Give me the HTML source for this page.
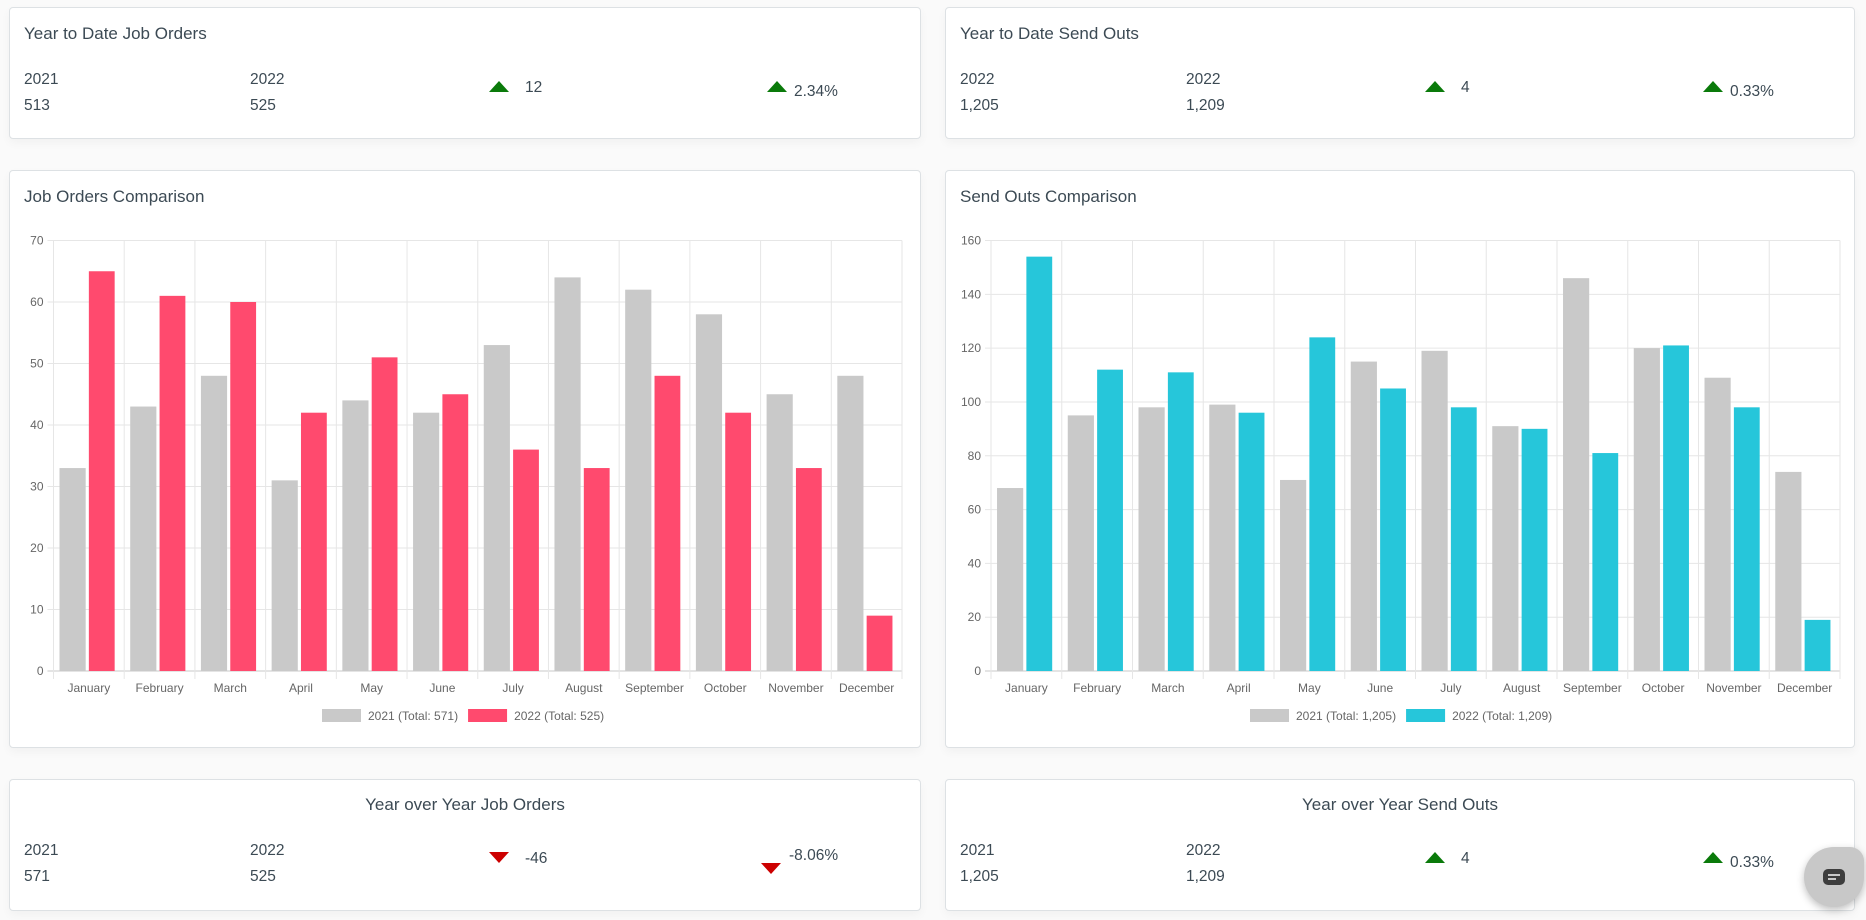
<!DOCTYPE html>
<html><head><meta charset="utf-8"><style>
body{margin:0;width:1866px;height:920px;background:#fafafa;font-family:"Liberation Sans",sans-serif;color:#3c4a54;position:relative;overflow:hidden}
.card{position:absolute;background:#fff;border:1px solid #dde1e4;border-radius:4px;box-shadow:0 4px 10px rgba(0,0,0,0.04)}
.t{position:absolute;font-size:17px;color:#3c4a54;white-space:nowrap}
.v{position:absolute;font-size:15.5px;color:#3c4a54;white-space:nowrap}
.up{position:absolute;width:0;height:0;border-left:10px solid transparent;border-right:10px solid transparent;border-bottom:11px solid #0a7a0a}
.dn{position:absolute;width:0;height:0;border-left:10px solid transparent;border-right:10px solid transparent;border-top:11px solid #cc0000}
svg text{font-family:"Liberation Sans",sans-serif}
</style></head><body>

<div class="card" style="left:9px;top:7px;width:910px;height:130px">
<div class="t" style="left:14px;top:16px">Year to Date Job Orders</div>
<div class="v" style="left:14px;top:63px">2021</div>
<div class="v" style="left:14px;top:89px">513</div>
<div class="v" style="left:240px;top:63px">2022</div>
<div class="v" style="left:240px;top:89px">525</div>
<div class="up" style="left:479px;top:73px"></div>
<div class="v" style="left:515px;top:71px">12</div>
<div class="up" style="left:757px;top:73px"></div>
<div class="v" style="left:784px;top:75px">2.34%</div>
</div>

<div class="card" style="left:945px;top:7px;width:908px;height:130px">
<div class="t" style="left:14px;top:16px">Year to Date Send Outs</div>
<div class="v" style="left:14px;top:63px">2022</div>
<div class="v" style="left:14px;top:89px">1,205</div>
<div class="v" style="left:240px;top:63px">2022</div>
<div class="v" style="left:240px;top:89px">1,209</div>
<div class="up" style="left:479px;top:73px"></div>
<div class="v" style="left:515px;top:71px">4</div>
<div class="up" style="left:757px;top:73px"></div>
<div class="v" style="left:784px;top:75px">0.33%</div>
</div>

<div class="card" style="left:9px;top:170px;width:910px;height:576px">
<div class="t" style="left:14px;top:16px">Job Orders Comparison</div>
</div>
<div class="card" style="left:945px;top:170px;width:908px;height:576px">
<div class="t" style="left:14px;top:16px">Send Outs Comparison</div>
</div>

<div class="card" style="left:9px;top:779px;width:910px;height:130px">
<div class="t" style="left:0;width:910px;text-align:center;top:15px">Year over Year Job Orders</div>
<div class="v" style="left:14px;top:62px">2021</div>
<div class="v" style="left:14px;top:88px">571</div>
<div class="v" style="left:240px;top:62px">2022</div>
<div class="v" style="left:240px;top:88px">525</div>
<div class="dn" style="left:479px;top:72px"></div>
<div class="v" style="left:515px;top:70px">-46</div>
<div class="dn" style="left:751px;top:83px"></div>
<div class="v" style="left:779px;top:67px">-8.06%</div>
</div>

<div class="card" style="left:945px;top:779px;width:908px;height:130px">
<div class="t" style="left:0;width:908px;text-align:center;top:15px">Year over Year Send Outs</div>
<div class="v" style="left:14px;top:62px">2021</div>
<div class="v" style="left:14px;top:88px">1,205</div>
<div class="v" style="left:240px;top:62px">2022</div>
<div class="v" style="left:240px;top:88px">1,209</div>
<div class="up" style="left:479px;top:72px"></div>
<div class="v" style="left:515px;top:70px">4</div>
<div class="up" style="left:757px;top:72px"></div>
<div class="v" style="left:784px;top:74px">0.33%</div>
</div>

<svg id="charts" width="1866" height="920" style="position:absolute;left:0;top:0"></svg>

<div style="position:absolute;left:1804px;top:847px;width:60px;height:60px;background:#c8c8c8;border-radius:30px 14px 30px 30px;box-shadow:0 3px 8px rgba(0,0,0,0.25)">
<div style="position:absolute;left:19px;top:22px;width:22px;height:16px;background:#3d3d3d;border-radius:5px"></div>
<div style="position:absolute;left:24px;top:27px;width:12px;height:2px;background:#c8c8c8"></div>
<div style="position:absolute;left:24px;top:31px;width:8px;height:2px;background:#c8c8c8"></div>
</div>

<script>
var months = ["January","February","March","April","May","June","July","August","September","October","November","December"];
var jobOrders2021 = [33,43,48,31,44,42,53,64,62,58,45,48];
var jobOrders2022 = [65,61,60,42,51,45,36,33,48,42,33,9];
var jobTicks = [0,10,20,30,40,50,60,70];
var jobLegend = ["2021 (Total: 571)","2022 (Total: 525)"];
var sendOuts2021 = [68,95,98,99,71,115,119,91,146,120,109,74];
var sendOuts2022 = [154,112,111,96,124,105,98,90,81,121,98,19];
var sendTicks = [0,20,40,60,80,100,120,140,160];
var sendLegend = ["2021 (Total: 1,205)","2022 (Total: 1,209)"];

var svg = document.getElementById('charts');
var NS = 'http://www.w3.org/2000/svg';
function mk(tag, attrs){var e=document.createElementNS(NS,tag);for(var k in attrs)e.setAttribute(k,attrs[k]);svg.appendChild(e);return e;}

function drawChart(prefix, x0, x1, y0, y1, ticks, a, b, colB, legend, legX){
  var max = ticks[ticks.length-1];
  var yS = function(v){return y1 - (v/max)*(y1-y0);};
  var cw = (x1-x0)/months.length;
  var xS = function(i){return x0 + i*cw;};
  ticks.forEach(function(t){
    var l=mk('line',{x1:x0-6,x2:x1,y1:yS(t),y2:yS(t),stroke:t===0?'#c8c8c8':'#e6e6e6','stroke-width':1});
    
    
    var tx=mk('text',{x:x0-10,y:yS(t)+4,'text-anchor':'end','font-size':12,fill:'#666'});
    tx.textContent=t;
    
    
  });
  for(var i=0;i<=months.length;i++){
    var l=mk('line',{x1:xS(i),x2:xS(i),y1:y0,y2:y1+8,stroke:'#e6e6e6','stroke-width':1});
    
    
  }
  months.forEach(function(m,i){
    var ra=mk('rect',{x:xS(i)+cw*0.085,y:yS(a[i]),width:cw*0.37,height:y1-yS(a[i]),fill:'#c9c9c9'});
    
    
    var rb=mk('rect',{x:xS(i)+cw*0.5,y:yS(b[i]),width:cw*0.365,height:y1-yS(b[i]),fill:colB});
    
    
    var tx=mk('text',{x:xS(i)+cw/2,y:y1+21,'text-anchor':'middle','font-size':12,fill:'#666'});
    tx.textContent=m;
    
    
  });
  var ly=y1+38;
  var b1=mk('rect',{x:legX,y:ly,width:39,height:13,fill:'#c9c9c9'});
  
  
  var t1=mk('text',{x:legX+46,y:ly+11,'font-size':12,fill:'#666'});
  t1.textContent=legend[0];
  
  
  var w=t1.getComputedTextLength?t1.getComputedTextLength():100;
  var lx2=legX+46+w+10;
  var b2=mk('rect',{x:lx2,y:ly,width:39,height:13,fill:colB});
  
  
  var t2=mk('text',{x:lx2+46,y:ly+11,'font-size':12,fill:'#666'});
  t2.textContent=legend[1];
  
  
}
drawChart('job-orders',53.5,902,240.5,671,jobTicks,jobOrders2021,jobOrders2022,'#ff4a6e',jobLegend,322);
drawChart('send-outs',991,1840,240.5,671,sendTicks,sendOuts2021,sendOuts2022,'#26c6da',sendLegend,1250);
</script>
</body></html>
